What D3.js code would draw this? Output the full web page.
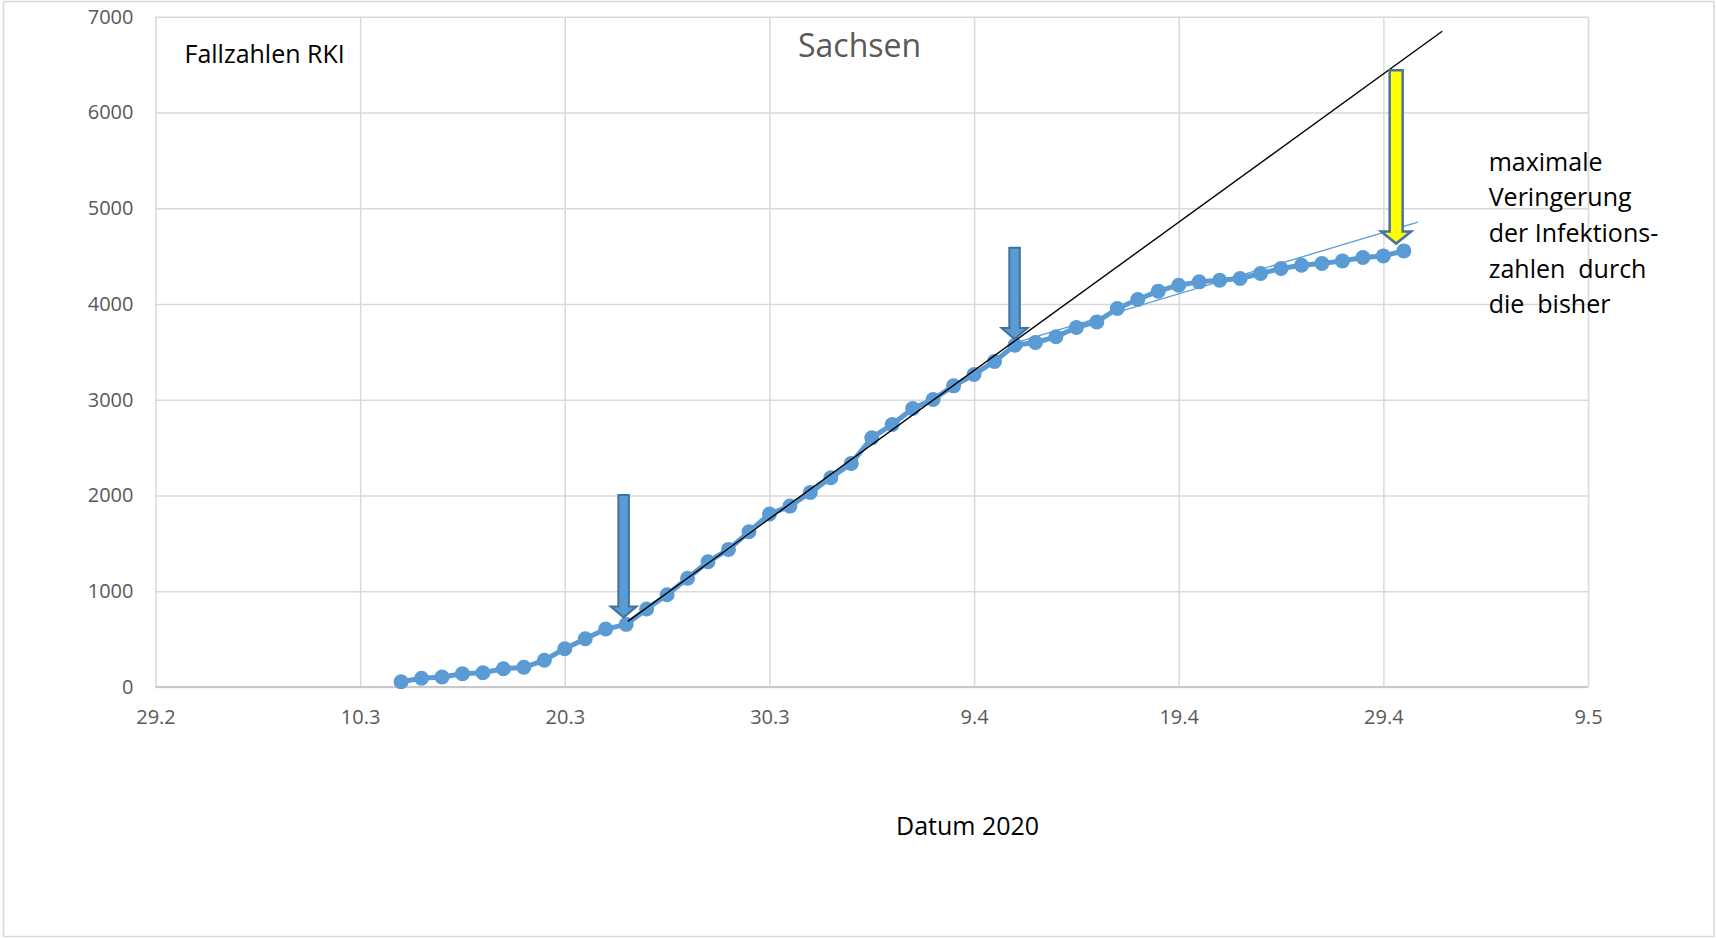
<!DOCTYPE html>
<html><head><meta charset="utf-8">
<script src="https://cdn.jsdelivr.net/npm/d3@7"></script>
<style>
body{margin:0;background:#fff}
svg{display:block;font-family:"Open Sans","Noto Sans",sans-serif}
</style>
</head><body>
<svg id="chart" width="1716" height="938"></svg>
<script>
// ---------- data ----------
const dates = [
 "2020-03-12","2020-03-13","2020-03-14","2020-03-15","2020-03-16","2020-03-17","2020-03-18","2020-03-19","2020-03-20","2020-03-21",
 "2020-03-22","2020-03-23","2020-03-24","2020-03-25","2020-03-26","2020-03-27","2020-03-28","2020-03-29","2020-03-30","2020-03-31",
 "2020-04-01","2020-04-02","2020-04-03","2020-04-04","2020-04-05","2020-04-06","2020-04-07","2020-04-08","2020-04-09","2020-04-10",
 "2020-04-11","2020-04-12","2020-04-13","2020-04-14","2020-04-15","2020-04-16","2020-04-17","2020-04-18","2020-04-19","2020-04-20",
 "2020-04-21","2020-04-22","2020-04-23","2020-04-24","2020-04-25","2020-04-26","2020-04-27","2020-04-28","2020-04-29","2020-04-30"
];
const cases = [
 55, 91, 104, 139, 149, 191, 206, 279, 400, 504,
 605, 654, 814, 964, 1135, 1308, 1437, 1621, 1806, 1889,
 2032, 2185, 2335, 2602, 2742, 2909, 3003, 3145, 3264, 3400,
 3570, 3598, 3657, 3755, 3813, 3953, 4047, 4134, 4196, 4231,
 4248, 4266, 4318, 4370, 4405, 4423, 4450, 4485, 4502, 4554
];
const yTicks = [0, 1000, 2000, 3000, 4000, 5000, 6000, 7000];
const xTickDates = ["2020-02-29","2020-03-10","2020-03-20","2020-03-30","2020-04-09","2020-04-19","2020-04-29","2020-05-09"];
const xDomain = ["2020-02-29", "2020-05-09"];
const yDomain = [0, 7000];

// linear trend of the early phase (black) and of the late phase (thin blue)
const trendEarlyDates = ["2020-03-23T02:00Z", "2020-05-01T21:00Z"];
const trendEarlyValues = [685, 6848];
const trendLateDates = ["2020-04-11T06:00Z", "2020-04-30T16:30Z"];
const trendLateValues = [3610, 4854];

// arrows: date, top value, tip value
const arrowDates = ["2020-03-22T21:00Z", "2020-04-10T23:30Z", "2020-04-29T15:00Z"];
const arrowTops = [2004, 4588, 6441];
const arrowTips = [727, 3633, 4631];
const arrowKinds = ["blue", "blue", "yellow"];

const title = "Sachsen";
const sourceLabel = "Fallzahlen RKI";
const xTitle = "Datum 2020";
const noteLines = ["maximale", "Veringerung", "der Infektions-", "zahlen  durch", "die  bisher"];

// ---------- layout ----------
const W = 1716, H = 938;
const L = 155.5, R = 1588, T = 16.7, B = 687;
const parse = s => new Date(s.length === 10 ? s + "T00:00:00Z" : s);

const svg = d3.select("#chart");
const x = d3.scaleUtc().domain(xDomain.map(parse)).range([L, R]);
const y = d3.scaleLinear().domain(yDomain).range([B, T]);

// outer border
svg.append("rect").attr("x", 3.5).attr("y", 1.5).attr("width", 1710.5).attr("height", 935)
  .attr("fill", "#fff").attr("stroke", "#d9d9d9").attr("stroke-width", 1.5);

// y axis with gridlines
const gy = svg.append("g").attr("transform", `translate(${L},0)`)
  .call(d3.axisLeft(y).tickValues(yTicks).tickSizeInner(-(R - L)).tickSizeOuter(0).tickPadding(22).tickFormat(d3.format("d")));
gy.select(".domain").remove();
gy.selectAll(".tick line").attr("stroke", "#d9d9d9").attr("stroke-width", 1.5);
gy.selectAll(".tick text").attr("fill", "#595959").style("font-size", "20px").style("font-family", "'Open Sans'");

// x axis with gridlines
const gx = svg.append("g").attr("transform", `translate(0,${B})`)
  .call(d3.axisBottom(x).tickValues(xTickDates.map(parse)).tickSizeInner(-(B - T)).tickSizeOuter(0).tickPadding(23)
    .tickFormat(d3.utcFormat("%-d.%-m")));
gx.select(".domain").remove();
gx.selectAll(".tick line").attr("stroke", "#d9d9d9").attr("stroke-width", 1.5);
gx.selectAll(".tick text").attr("fill", "#595959").style("font-size", "20px").style("font-family", "'Open Sans'");

// bottom axis line
svg.append("line").attr("x1", L).attr("x2", R).attr("y1", B).attr("y2", B)
  .attr("stroke", "#c8c8c8").attr("stroke-width", 2);

// data series
const pts = dates.map((d, i) => ({ d: parse(d), v: cases[i] }));
const line = d3.line().x(p => x(p.d)).y(p => y(p.v));
svg.append("path").datum(pts).attr("d", line).attr("fill", "none")
  .attr("stroke", "#5B9BD5").attr("stroke-width", 5).attr("stroke-linejoin", "round");
svg.append("g").selectAll("circle").data(pts).join("circle")
  .attr("cx", p => x(p.d)).attr("cy", p => y(p.v)).attr("r", 7.5).attr("fill", "#5B9BD5");

// trend lines
const tl = (ds, vs) => ds.map((d, i) => ({ d: parse(d), v: vs[i] }));
svg.append("path").datum(tl(trendLateDates, trendLateValues)).attr("d", line)
  .attr("fill", "none").attr("stroke", "#5B9BD5").attr("stroke-width", 1.3);
svg.append("path").datum(tl(trendEarlyDates, trendEarlyValues)).attr("d", line)
  .attr("fill", "none").attr("stroke", "#000").attr("stroke-width", 1.4);

// arrows
arrowDates.forEach((d, i) => {
  const cx = x(parse(d)), yt = y(arrowTops[i]), yp = y(arrowTips[i]);
  const yellow = arrowKinds[i] === "yellow";
  const sw = yellow ? 13 : 10.5, hw = yellow ? 30 : 26, hl = yellow ? 12 : 11;
  const hy = yp - hl;
  const p = `M${cx - sw/2},${yt} L${cx + sw/2},${yt} L${cx + sw/2},${hy} L${cx + hw/2},${hy} L${cx},${yp} L${cx - hw/2},${hy} L${cx - sw/2},${hy} Z`;
  svg.append("path").attr("d", p)
    .attr("fill", yellow ? "#FFFF00" : "#5B9BD5")
    .attr("stroke", yellow ? "#4A72A0" : "#41719C")
    .attr("stroke-width", yellow ? 2.5 : 2).attr("stroke-linejoin", "miter");
});

// texts
svg.append("text").attr("x", 798).attr("y", 57.3).text(title)
  .attr("fill", "#595959").style("font-size", "32px");
svg.append("text").attr("x", 184.5).attr("y", 62.7).text(sourceLabel)
  .attr("fill", "#000").style("font-size", "25px");
svg.append("text").attr("x", 896).attr("y", 835).text(xTitle)
  .attr("fill", "#000").style("font-size", "25px");
const note = svg.append("text").attr("fill", "#000").style("font-size", "25px").style("white-space", "pre");
noteLines.forEach((s, i) => {
  note.append("tspan").attr("x", 1488.7).attr("y", 170.7 + i * 35.65).text(s);
});
</script>
</body></html>
